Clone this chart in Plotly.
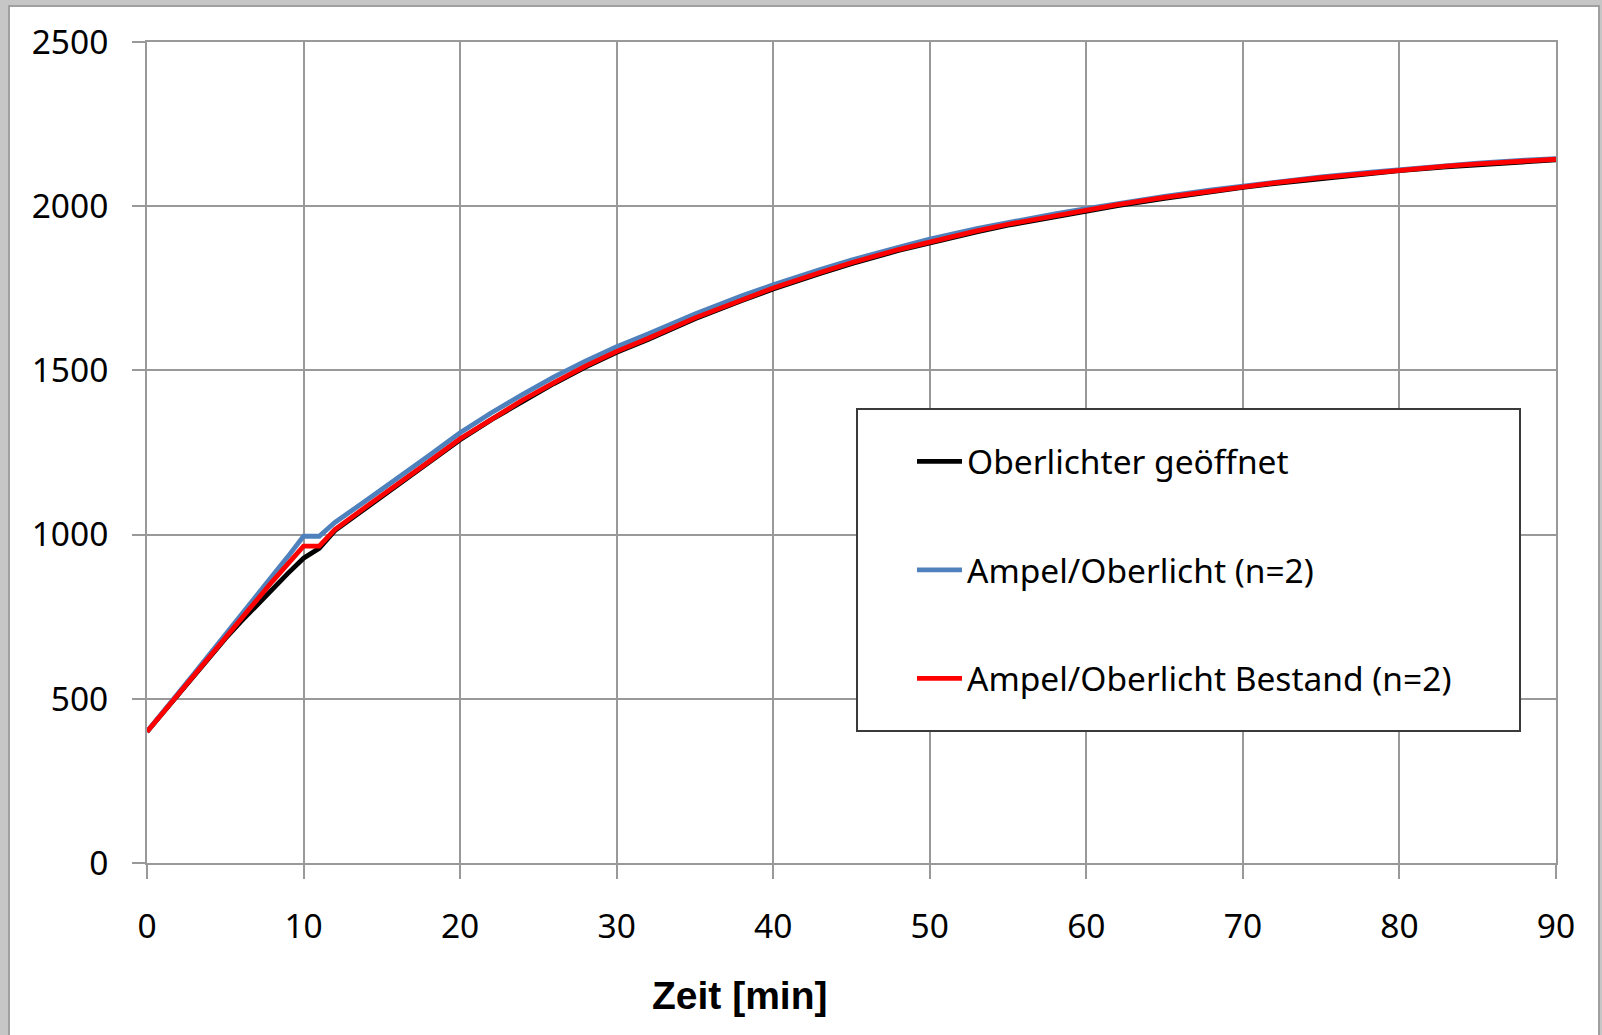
import plotly.graph_objects as go

# ---- data ----
zeit = [0, 2, 3, 4, 5, 6, 7, 8, 9, 10, 11, 12, 14, 16, 18, 20, 22, 24, 26, 28, 30,
        32, 35, 38, 40, 43, 45, 48, 50, 53, 55, 58, 60, 62, 65, 68, 70, 72, 75, 78,
        80, 83, 85, 88, 90]

oberlichter_geoeffnet = [400, 515, 572, 628, 683, 735, 785, 835, 882, 928, 958, 1012, 1082,
                         1149, 1219, 1289, 1350, 1407, 1460, 1510, 1555, 1594, 1657, 1713,
                         1748, 1795, 1825, 1865, 1889, 1922, 1942, 1969, 1985, 2002, 2024,
                         2045, 2057, 2069, 2085, 2099, 2108, 2120, 2127, 2136, 2141]

ampel_oberlicht = [400, 515, 576, 636, 697, 757, 816, 874, 933, 995, 995, 1037, 1104, 1170,
                   1240, 1310, 1371, 1427, 1480, 1528, 1572, 1611, 1672, 1727, 1761, 1807,
                   1836, 1875, 1900, 1932, 1951, 1977, 1993, 2009, 2030, 2050, 2062, 2073,
                   2089, 2103, 2112, 2124, 2131, 2140, 2145]

ampel_oberlicht_bestand = [400, 515, 574, 632, 690, 747, 803, 857, 911, 965, 965, 1015, 1085,
                           1152, 1222, 1292, 1353, 1410, 1463, 1513, 1558, 1597, 1660, 1716,
                           1751, 1798, 1828, 1868, 1892, 1925, 1945, 1972, 1988, 2005, 2027,
                           2047, 2059, 2071, 2087, 2101, 2110, 2122, 2129, 2138, 2143]

series_names = ["Oberlichter geöffnet", "Ampel/Oberlicht (n=2)", "Ampel/Oberlicht Bestand (n=2)"]
series_values = [oberlichter_geoeffnet, ampel_oberlicht, ampel_oberlicht_bestand]
series_colors = ["#000000", "#4F81BD", "#FF0000"]

x_ticks = [0, 10, 20, 30, 40, 50, 60, 70, 80, 90]
y_ticks = [0, 500, 1000, 1500, 2000, 2500]
x_title = "Zeit [min]"

# ---- layout geometry ----
W, H = 1602, 1035
L, R, T, B = 147, 1602 - 1556, 42, 1035 - 863
PW, PH = W - L - R, H - T - B


def px(xpix):
    return (xpix - L) / PW


def py(ypix):
    return (H - B - ypix) / PH


FONT = "Noto Sans"
GRID = "#999999"

fig = go.Figure()
for i, (name, vals, col) in enumerate(zip(series_names, series_values, series_colors)):
    fig.add_trace(go.Scatter(
        x=zeit, y=vals, mode="lines", name=name,
        line=dict(color=col, width=4.8),
        legendgroup=f"g{i}",
    ))

fig.update_layout(
    width=W, height=H,
    margin=dict(l=L, r=R, t=T, b=B, pad=0),
    paper_bgcolor="#c6c6c6",
    plot_bgcolor="white",
    font=dict(family=FONT, size=33, color="black"),
    showlegend=True,
    legend=dict(
        x=px(912), y=py(433), xanchor="left", yanchor="top",
        bgcolor="rgba(0,0,0,0)", borderwidth=0,
        font=dict(family=FONT, size=33.5, color="black"),
        tracegroupgap=62, itemwidth=45,
    ),
    xaxis=dict(
        range=[0, 90], tickvals=x_ticks, ticktext=[str(v) for v in x_ticks],
        showgrid=True, gridcolor=GRID, gridwidth=2,
        showline=True, linecolor=GRID, linewidth=2, mirror=True,
        ticks="outside", ticklen=14, tickcolor=GRID, tickwidth=2,
        zeroline=False, ticklabelstandoff=19,
        tickfont=dict(family=FONT, size=33.5, color="black"),
    ),
    yaxis=dict(
        range=[0, 2500], tickvals=y_ticks, ticktext=[str(v) for v in y_ticks],
        showgrid=True, gridcolor=GRID, gridwidth=2,
        showline=True, linecolor=GRID, linewidth=2, mirror=True,
        ticks="outside", ticklen=13, tickcolor=GRID, tickwidth=2,
        zeroline=False, ticklabelstandoff=17,
        tickfont=dict(family=FONT, size=33.5, color="black"),
    ),
    shapes=[
        # white chart panel inside grey frame
        dict(type="rect", xref="paper", yref="paper", layer="below",
             x0=px(9), x1=px(1599), y0=py(1060), y1=py(6),
             fillcolor="white", line=dict(color="#a0a0a0", width=2)),
        # legend box
        dict(type="rect", xref="paper", yref="paper", layer="above",
             x0=px(857), x1=px(1520), y0=py(731), y1=py(409),
             fillcolor="white", line=dict(color="#3a3a3a", width=2)),
    ],
    annotations=[
        dict(text=f"<b>{x_title}</b>", xref="paper", yref="paper",
             x=px(739), y=py(995), xanchor="center", yanchor="middle",
             showarrow=False,
             font=dict(family="Liberation Sans", size=39, color="black")),
    ],
)

fig.write_html("out.html")
